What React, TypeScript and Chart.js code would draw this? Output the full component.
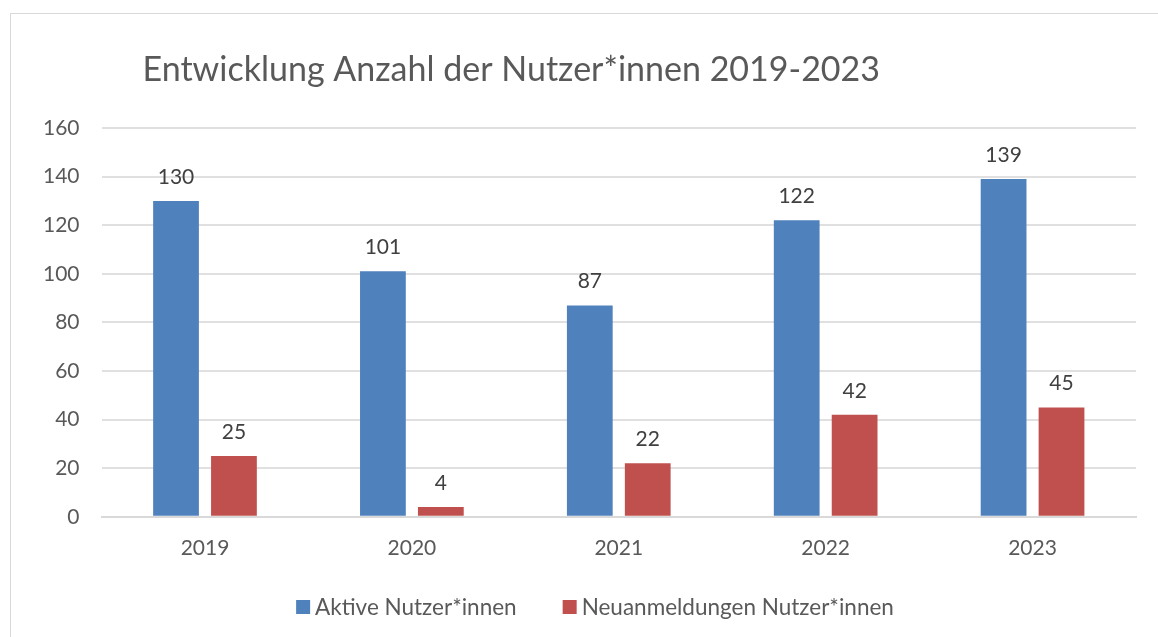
import React, { useEffect, useRef } from "react";
import { Chart, registerables } from "chart.js";

Chart.register(...registerables);

const categories = ["2019", "2020", "2021", "2022", "2023"];
const activeUsers = [130, 101, 87, 122, 139];
const newSignups = [25, 4, 22, 42, 45];
const seriesNames = ["Aktive Nutzer*innen", "Neuanmeldungen Nutzer*innen"];
const seriesColors = ["#4F81BD", "#C0504D"];
const chartTitle = "Entwicklung Anzahl der Nutzer*innen 2019-2023";
const yMin = 0;
const yMax = 160;
const yStep = 20;

const FONT = "Lato, 'Open Sans', sans-serif";

const valueLabels = {
  id: "valueLabels",
  afterDatasetsDraw(chart: any) {
    const ctx = chart.ctx;
    ctx.save();
    ctx.font = `21px ${FONT}`;
    ctx.fillStyle = "#404040";
    ctx.textAlign = "center";
    ctx.textBaseline = "alphabetic";
    chart.data.datasets.forEach((ds: any, i: number) => {
      const meta = chart.getDatasetMeta(i);
      meta.data.forEach((el: any, j: number) => {
        ctx.fillText(String(ds.data[j]), el.x, el.y - 17);
      });
    });
    ctx.restore();
  },
};

const titlePlugin = {
  id: "titleText",
  afterDraw(chart: any) {
    const ctx = chart.ctx;
    ctx.save();
    ctx.font = `34px ${FONT}`;
    ctx.fillStyle = "#595959";
    ctx.textAlign = "left";
    ctx.textBaseline = "alphabetic";
    ctx.fillText(chartTitle, chart.chartArea.left + 41, 67);
    ctx.restore();
  },
};

const bottomLegend = {
  id: "bottomLegend",
  afterDraw(chart: any) {
    const ctx = chart.ctx;
    const box = 14;
    const gapText = 5;
    const gapItem = 46;
    ctx.save();
    ctx.font = `22.5px ${FONT}`;
    const items = chart.data.datasets.map((ds: any) => ({
      text: ds.label,
      color: ds.backgroundColor,
      w: ctx.measureText(ds.label).width,
    }));
    const total =
      items.reduce((s: number, it: any) => s + box + gapText + it.w, 0) +
      gapItem * (items.length - 1);
    let x = chart.width / 2 - total / 2;
    const cy = chart.height - 37;
    ctx.textBaseline = "middle";
    ctx.textAlign = "left";
    items.forEach((it: any) => {
      ctx.fillStyle = it.color;
      ctx.fillRect(x, cy - box / 2, box, box);
      ctx.fillStyle = "#595959";
      ctx.fillText(it.text, x + box + gapText, cy + 1);
      x += box + gapText + it.w + gapItem;
    });
    ctx.restore();
  },
};

export default function App() {
  const ref = useRef<HTMLCanvasElement>(null);
  useEffect(() => {
    if (!ref.current) return;
    const chart = new Chart(ref.current, {
      type: "bar",
      data: {
        labels: categories,
        datasets: [
          {
            label: seriesNames[0],
            data: activeUsers,
            backgroundColor: seriesColors[0],
            categoryPercentage: 0.56,
            barPercentage: 0.79,
          },
          {
            label: seriesNames[1],
            data: newSignups,
            backgroundColor: seriesColors[1],
            categoryPercentage: 0.56,
            barPercentage: 0.79,
          },
        ],
      },
      options: {
        animation: false,
        responsive: false,
        maintainAspectRatio: false,
        layout: { padding: { top: 114, right: 43, left: 10, bottom: 72 } },
        plugins: {
          legend: { display: false },
          title: { display: false },
          tooltip: { enabled: false },
        },
        scales: {
          x: {
            grid: { display: false },
            border: { color: "#d9d9d9", width: 2 },
            ticks: {
              color: "#595959",
              font: { family: FONT, size: 21 },
              padding: 11,
            },
          },
          y: {
            min: yMin,
            max: yMax,
            ticks: {
              stepSize: yStep,
              color: "#595959",
              font: { family: FONT, size: 21 },
              padding: 22,
            },
            grid: { color: "#e0e0e0", drawTicks: false, lineWidth: 2 },
            border: { display: false },
          },
        },
      },
      plugins: [valueLabels, titlePlugin, bottomLegend],
    });
    return () => chart.destroy();
  }, []);

  return (
    <div
      style={{
        position: "absolute",
        left: 0,
        top: 0,
        width: 1158,
        height: 637,
        overflow: "hidden",
        background: "#fff",
      }}
    >
      <div
        style={{
          position: "absolute",
          left: 10,
          top: 13,
          width: 1168,
          height: 630,
          border: "1px solid #d9d9d9",
          background: "#fff",
        }}
      >
        <canvas ref={ref} width={1168} height={630} style={{ display: "block" }} />
      </div>
    </div>
  );
}
